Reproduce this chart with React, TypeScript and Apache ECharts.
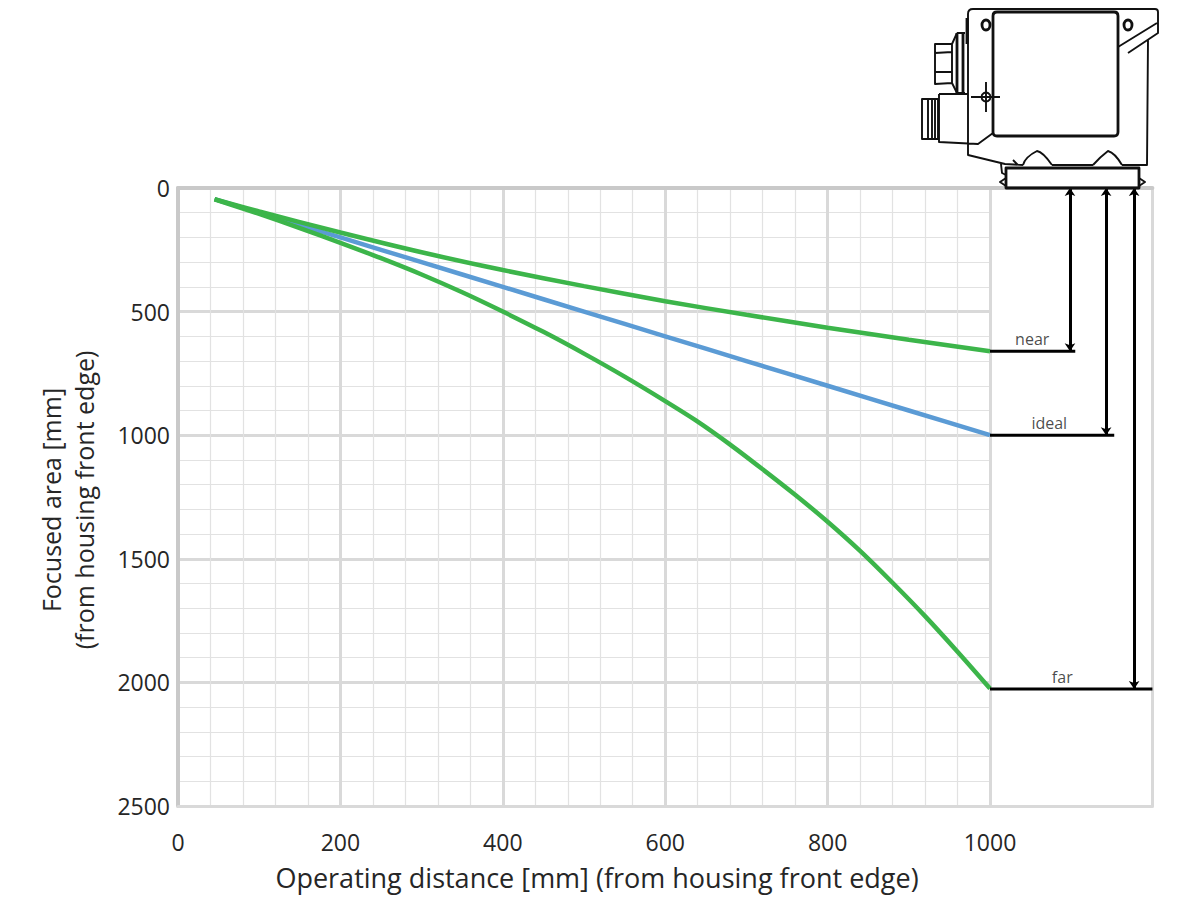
import React, { useEffect, useRef } from "react";
import * as echarts from "echarts";

const distances = [45, 100, 200, 300, 400, 500, 600, 700, 800, 900, 1000];
const nearValues = [45, 95, 180, 260, 332, 397, 458, 513, 565, 614, 660];
const idealValues = [45, 100, 200, 300, 400, 500, 600, 700, 800, 900, 1000];
const farDistances = [45, 100, 150, 200, 250, 300, 350, 400, 450, 500, 550, 600, 640, 680, 720, 760, 800, 840, 880, 920, 960, 1000];
const farValues = [46, 105, 162, 222, 284, 350, 422, 500, 582, 670, 763, 862, 945, 1038, 1138, 1241, 1350, 1468, 1597, 1732, 1876, 2025];

const nearLabel = { name: "near", x: 1052, value: 660, lineEnd: 1105, arrowX: 1098.5 };
const idealLabel = { name: "ideal", x: 1073, value: 1000, lineEnd: 1153, arrowX: 1143 };
const farLabel = { name: "far", x: 1089, value: 2027, lineEnd: 1200, arrowX: 1177.5 };
const marks = [nearLabel, idealLabel, farLabel];

const xTitle = "Operating distance [mm] (from housing front edge)";
const yTitle = "Focused area [mm]\n(from housing front edge)";

const FONT = '"Open Sans", sans-serif';
const TEXT = "#262626";
const MAJOR = "#d9d9d9";
const MINOR = "#e2e2e2";
const EDGE = "#c9c9c9";
const GREEN = "#3cb54a";
const BLUE = "#5b9bd5";

const deviceThin = [
  // housing
  "M968 14 Q968 9 973 9 L1155 9 Q1158 9 1158 12 L1158 33 L1128 53",
  "M1157 23 L1118 47",
  "M1148 40 L1147 165 L1122 165 M1093 165 L1052 165 M1023 165 L1005 164 L968 155 L968 14",
  "M1013 160 L1018 165",
  // clips
  "M1023 165 Q1025 157 1037 151 Q1043 152 1052 165",
  "M1093 165 Q1100 157 1108 151 Q1115 153 1122 165",
  // plate wings
  "M1006 178 L1000 182 L1006 186 M1139 178 L1145 182 L1139 186 M1001 164 L1002 173 L1006 175",
  // upper connector
  "M957 33 L965 33 M957 93 L965 93",
  "M957 33 L952 44 L935 44 L935 84 L952 83 L957 93",
  "M952 44 L952 83 M935 53 L952 52 M935 72 L952 72",
  // lower connector
  "M939 94 L968 94 M939 94 L939 142 L978 144 L993 133",
  "M922 99 L938 99 L938 139 L922 139 Z M928 99 L928 139 M932 99 L932 139 M935 99 L935 139",
  // crosshair
  "M971 97 L1000 97 M986 82 L986 112",
].join(" ");

const deviceHeavy = [
  // window
  "M997 12 L1114 12 Q1118 12 1118 16 L1118 132 Q1118 136 1114 136 L997 136 Q993 136 993 132 L993 16 Q993 12 997 12 Z",
  // front plate
  "M1006 168 L1139 168 L1139 188 L1006 188 Z",
  // neck
  "M957 33 L957 93 M963 33 L963 93 M967 18 L967 44",
].join(" ");

echarts.graphic.registerShape("deviceThin", echarts.graphic.extendPath(deviceThin, {}) as any);
echarts.graphic.registerShape("deviceHeavy", echarts.graphic.extendPath(deviceHeavy, {}) as any);

export default function App() {
  const ref = useRef<HTMLDivElement>(null);
  useEffect(() => {
    if (!ref.current) return;
    const chart = echarts.init(ref.current, undefined, { renderer: "svg" });
    const toPairs = (xs: number[], vals: number[]) => xs.map((d, i) => [d, vals[i]]);
    const curve = (name: string, xs: number[], vals: number[], color: string) => ({
      name,
      type: "line",
      xAxisIndex: 0,
      yAxisIndex: 0,
      data: toPairs(xs, vals),
      smooth: 0.3,
      showSymbol: false,
      symbol: "none",
      lineStyle: { color, width: 4.5 },
      z: 5,
    });
    const blackLine = { color: "#000", width: 3, type: "solid" };
    const holeStyle = { fill: "none", stroke: "#111", lineWidth: 2.8 };
    chart.setOption({
      animation: false,
      backgroundColor: "#fff",
      textStyle: { fontFamily: FONT },
      grid: [
        { left: 178, top: 188, width: 812, height: 618 },
        { left: 990, top: 188, width: 162.4, height: 618 },
      ],
      graphic: [
        {
          type: "deviceThin",
          x: 0,
          y: 0,
          z: 20,
          silent: true,
          style: { fill: "none", stroke: "#111", lineWidth: 1.9, lineJoin: "round" },
        },
        {
          type: "deviceHeavy",
          x: 0,
          y: 0,
          z: 20,
          silent: true,
          style: { fill: "none", stroke: "#111", lineWidth: 2.8, lineJoin: "round" },
        },
        { type: "ellipse", z: 20, shape: { cx: 986, cy: 25, rx: 4, ry: 5 }, style: holeStyle },
        { type: "ellipse", z: 20, shape: { cx: 1128, cy: 25, rx: 4, ry: 5 }, style: holeStyle },
        { type: "circle", z: 20, shape: { cx: 986, cy: 97, r: 4.5 }, style: { fill: "none", stroke: "#111", lineWidth: 1.9 } },
      ],
      xAxis: [
        {
          gridIndex: 0,
          type: "value",
          min: 0,
          max: 1000,
          interval: 200,
          position: "bottom",
          axisLine: { onZero: false, lineStyle: { color: MAJOR, width: 3 } },
          axisTick: { show: false },
          axisLabel: { fontSize: 23, color: TEXT, fontFamily: FONT, margin: 24, formatter: (v: number) => String(v) },
          splitLine: { show: true, lineStyle: { color: MAJOR, width: 3 } },
          minorTick: { show: false, splitNumber: 5 },
          minorSplitLine: { show: true, lineStyle: { color: MINOR, width: 1.2 } },
          name: xTitle,
          nameLocation: "middle",
          nameGap: 58,
          nameTextStyle: { fontSize: 27, color: TEXT, fontFamily: FONT, padding: [0, 0, 0, 26] },
        },
        {
          gridIndex: 0,
          type: "value",
          min: 0,
          max: 1000,
          position: "top",
          axisLine: { onZero: false, lineStyle: { color: EDGE, width: 4 } },
          axisTick: { show: false },
          axisLabel: { show: false },
          splitLine: { show: false },
        },
        {
          gridIndex: 1,
          type: "value",
          min: 1000,
          max: 1200,
          position: "bottom",
          axisLine: { onZero: false, lineStyle: { color: MAJOR, width: 3 } },
          axisTick: { show: false },
          axisLabel: { show: false },
          splitLine: { show: false },
        },
        {
          gridIndex: 1,
          type: "value",
          min: 1000,
          max: 1200,
          position: "top",
          axisLine: { onZero: false, lineStyle: { color: EDGE, width: 4 } },
          axisTick: { show: false },
          axisLabel: { show: false },
          splitLine: { show: false },
        },
      ],
      yAxis: [
        {
          gridIndex: 0,
          type: "value",
          inverse: true,
          min: 0,
          max: 2500,
          interval: 500,
          position: "left",
          axisLine: { show: true, onZero: false, lineStyle: { color: EDGE, width: 4 } },
          axisTick: { show: false },
          axisLabel: { fontSize: 23, color: TEXT, fontFamily: FONT, margin: 8, formatter: (v: number) => String(v) },
          splitLine: { show: true, lineStyle: { color: MAJOR, width: 3 } },
          minorTick: { show: false, splitNumber: 5 },
          minorSplitLine: { show: true, lineStyle: { color: MINOR, width: 1.2 } },
          name: yTitle,
          nameLocation: "middle",
          nameGap: 78,
          nameTextStyle: { fontSize: 25, lineHeight: 33, color: TEXT, fontFamily: FONT, padding: [0, 6, 0, 0] },
        },
        {
          gridIndex: 1,
          type: "value",
          inverse: true,
          min: 0,
          max: 2500,
          position: "right",
          axisLine: { show: true, onZero: false, lineStyle: { color: MAJOR, width: 3 } },
          axisTick: { show: false },
          axisLabel: { show: false },
          splitLine: { show: false },
        },
      ],
      series: [
        curve("ideal", distances, idealValues, BLUE),
        curve("near", distances, nearValues, GREEN),
        curve("far", farDistances, farValues, GREEN),
        ...marks.map((m) => ({
          name: m.name + " line",
          type: "line",
          xAxisIndex: 2,
          yAxisIndex: 1,
          symbol: "none",
          data: [
            [1000, m.value],
            [m.lineEnd, m.value],
          ],
          lineStyle: blackLine,
          z: 6,
          markLine: {
            silent: true,
            symbol: ["arrow", "arrow"],
            symbolSize: [8, 8],
            label: { show: false },
            lineStyle: blackLine,
            data: [[{ coord: [m.arrowX, 0] }, { coord: [m.arrowX, m.value] }]],
          },
        })),
        {
          name: "labels",
          type: "scatter",
          xAxisIndex: 2,
          yAxisIndex: 1,
          symbolSize: 0,
          data: marks.map((m) => ({ name: m.name, value: [m.x, m.value] })),
          label: {
            show: true,
            position: "top",
            distance: 4,
            formatter: "{b}",
            fontSize: 16,
            color: "#1a1a1a",
            fontFamily: FONT,
          },
          z: 7,
        },
      ],
    });
    return () => chart.dispose();
  }, []);
  return <div ref={ref} style={{ position: "fixed", left: 0, top: 0, width: 1184, height: 923 }} />;
}
